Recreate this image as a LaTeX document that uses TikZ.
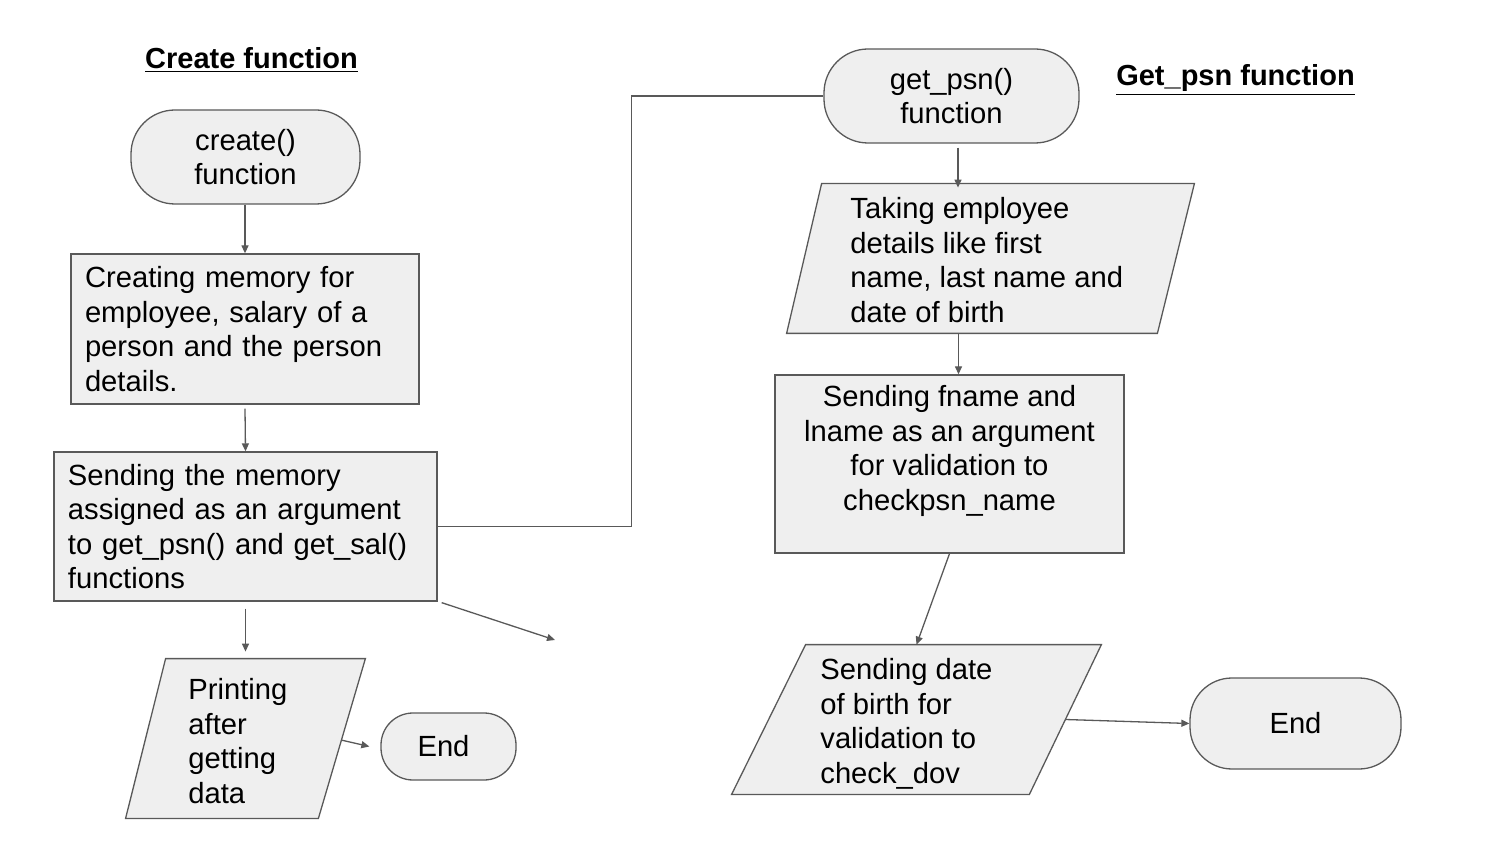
\documentclass[tikz,border=0pt]{standalone}
\usepackage{fontspec}
\setmainfont{Liberation Sans}
\usetikzlibrary{arrows.meta,backgrounds,calc}
\definecolor{lc}{HTML}{595959}
\definecolor{fc}{HTML}{EFEFEF}
\begin{document}
\begin{tikzpicture}[x=0.5pt,y=-0.5pt,
  every node/.style={font=\fontsize{14.6}{17.25}\selectfont, text=black},
  title/.style={font=\fontsize{14.5}{17}\selectfont\bfseries, inner sep=0pt},
  termbox/.style={draw=lc, fill=fc, line width=0.65pt, rounded corners=22pt, align=center, inner sep=0pt},
  procbox/.style={draw=lc, fill=fc, line width=0.65pt, inner xsep=7pt, inner ysep=0pt},
  shapefill/.style={draw=lc, fill=fc, line width=0.65pt},
  paraframe/.style={inner sep=0pt},
  iotext/.style={align=left, anchor=west, inner sep=0pt},
  arr/.style={draw=lc, line width=0.65pt, -{Triangle[length=4pt,width=3.5pt]}},
  link/.style={draw=lc, line width=0.65pt}]
\useasboundingbox (0,0) rectangle (1500,844);

% titles
\node[title] (t1) at (251.5,60) {\underline{Create function}};
\node[title] (t2) at (1235.5,80) {\underline{Get\_psn function}};

% left column
\node[termbox, minimum width=114.5pt, minimum height=47pt] (c1) at (245.5,157) {create()\\function};
\node[procbox, minimum width=174pt, minimum height=75pt, text width=160pt, align=left] (r1) at (245,329)
  {Creating memory for\\employee, salary of a\\person and the person\\details.};
\node[procbox, minimum width=191.5pt, minimum height=74.5pt, text width=177.5pt, align=left] (r2) at (245.5,526.5)
  {Sending the memory\\assigned as an argument\\to get\_psn() and get\_sal()\\functions};
\node[paraframe, minimum width=119.5pt, minimum height=79.5pt] (p1) at (245.5,738.5) {};
\coordinate (p1nw) at ($(p1.north west)+(40,0)$);
\coordinate (p1ne) at (p1.north east);
\coordinate (p1se) at ($(p1.south east)-(47,0)$);
\coordinate (p1sw) at (p1.south west);
\node[iotext] (p1t) at (188,741) {Printing\\after\\getting\\data};
\node[termbox, minimum width=67.5pt, minimum height=33.5pt, rounded corners=16pt] (e1) at (448.5,746.5) {End\hspace{5pt}};

% right column
\node[termbox, minimum width=127.5pt, minimum height=47pt] (g1) at (951.5,96) {get\_psn()\\function};
\node[paraframe, minimum width=203.5pt, minimum height=74.5pt] (p2) at (990.5,258.5) {};
\coordinate (p2nw) at ($(p2.north west)+(35,0)$);
\coordinate (p2ne) at (p2.north east);
\coordinate (p2se) at ($(p2.south east)-(37,0)$);
\coordinate (p2sw) at (p2.south west);
\node[iotext] (p2t) at (850,260) {Taking employee\\details like first\\name, last name and\\date of birth};
\node[procbox, minimum width=174.5pt, minimum height=89pt] (r3) at (949.5,464) {};
\node[align=center, inner sep=0pt] (r3t) at (949.5,451) {Sending fname and\\lname as an argument\\for validation to\\checkpsn\_name};
\node[paraframe, minimum width=184.5pt, minimum height=74.5pt] (p3) at (916.5,719.5) {};
\coordinate (p3nw) at ($(p3.north west)+(74,0)$);
\coordinate (p3ne) at (p3.north east);
\coordinate (p3se) at ($(p3.south east)-(72,0)$);
\coordinate (p3sw) at (p3.south west);
\node[iotext] (p3t) at (820,724) {Sending date\\of birth for\\validation to\\check\_dov};
\node[termbox, minimum width=105.5pt, minimum height=45.5pt, rounded corners=21pt] (e2) at (1295.5,723.5) {End};

\begin{scope}[on background layer]
  \draw[shapefill] (p1nw) -- (p1ne) -- (p1se) -- (p1sw) -- cycle;
  \draw[shapefill] (p2nw) -- (p2ne) -- (p2se) -- (p2sw) -- cycle;
  \draw[shapefill] (p3nw) -- (p3ne) -- (p3se) -- (p3sw) -- cycle;
\end{scope}

% connectors
\draw[arr] (c1.south -| r1.north) -- (r1.north);
\draw[arr] ([yshift=-2pt]r1.south) -- (r2.north);
\draw[link] (r2.east) -- ++(194,0) |- (g1.west);
\coordinate (free) at (555,640);
\draw[arr] ([shift={(2pt,-0.5pt)}]r2.south east) -- (free);
\draw[arr] ([yshift=-3.5pt]r2.south) -- ([yshift=3.5pt]p1.north);
\draw[arr] ($(p1ne)!0.51!(p1se)$) -- ([xshift=-5.5pt]e1.west);
\draw[arr] ([shift={(3.25pt,-2pt)}]g1.south) -- ([shift={(3.25pt,-2pt)}]g1.south |- p2.north);
\draw[arr] ([xshift=4.5pt]r3.north |- p2.south) -- ([xshift=4.5pt]r3.north);
\draw[arr] (r3.south) -- (p3.north);
\draw[arr] ($(p3ne)!0.5!(p3se)$) -- (e2.west);
\end{tikzpicture}
\end{document}
